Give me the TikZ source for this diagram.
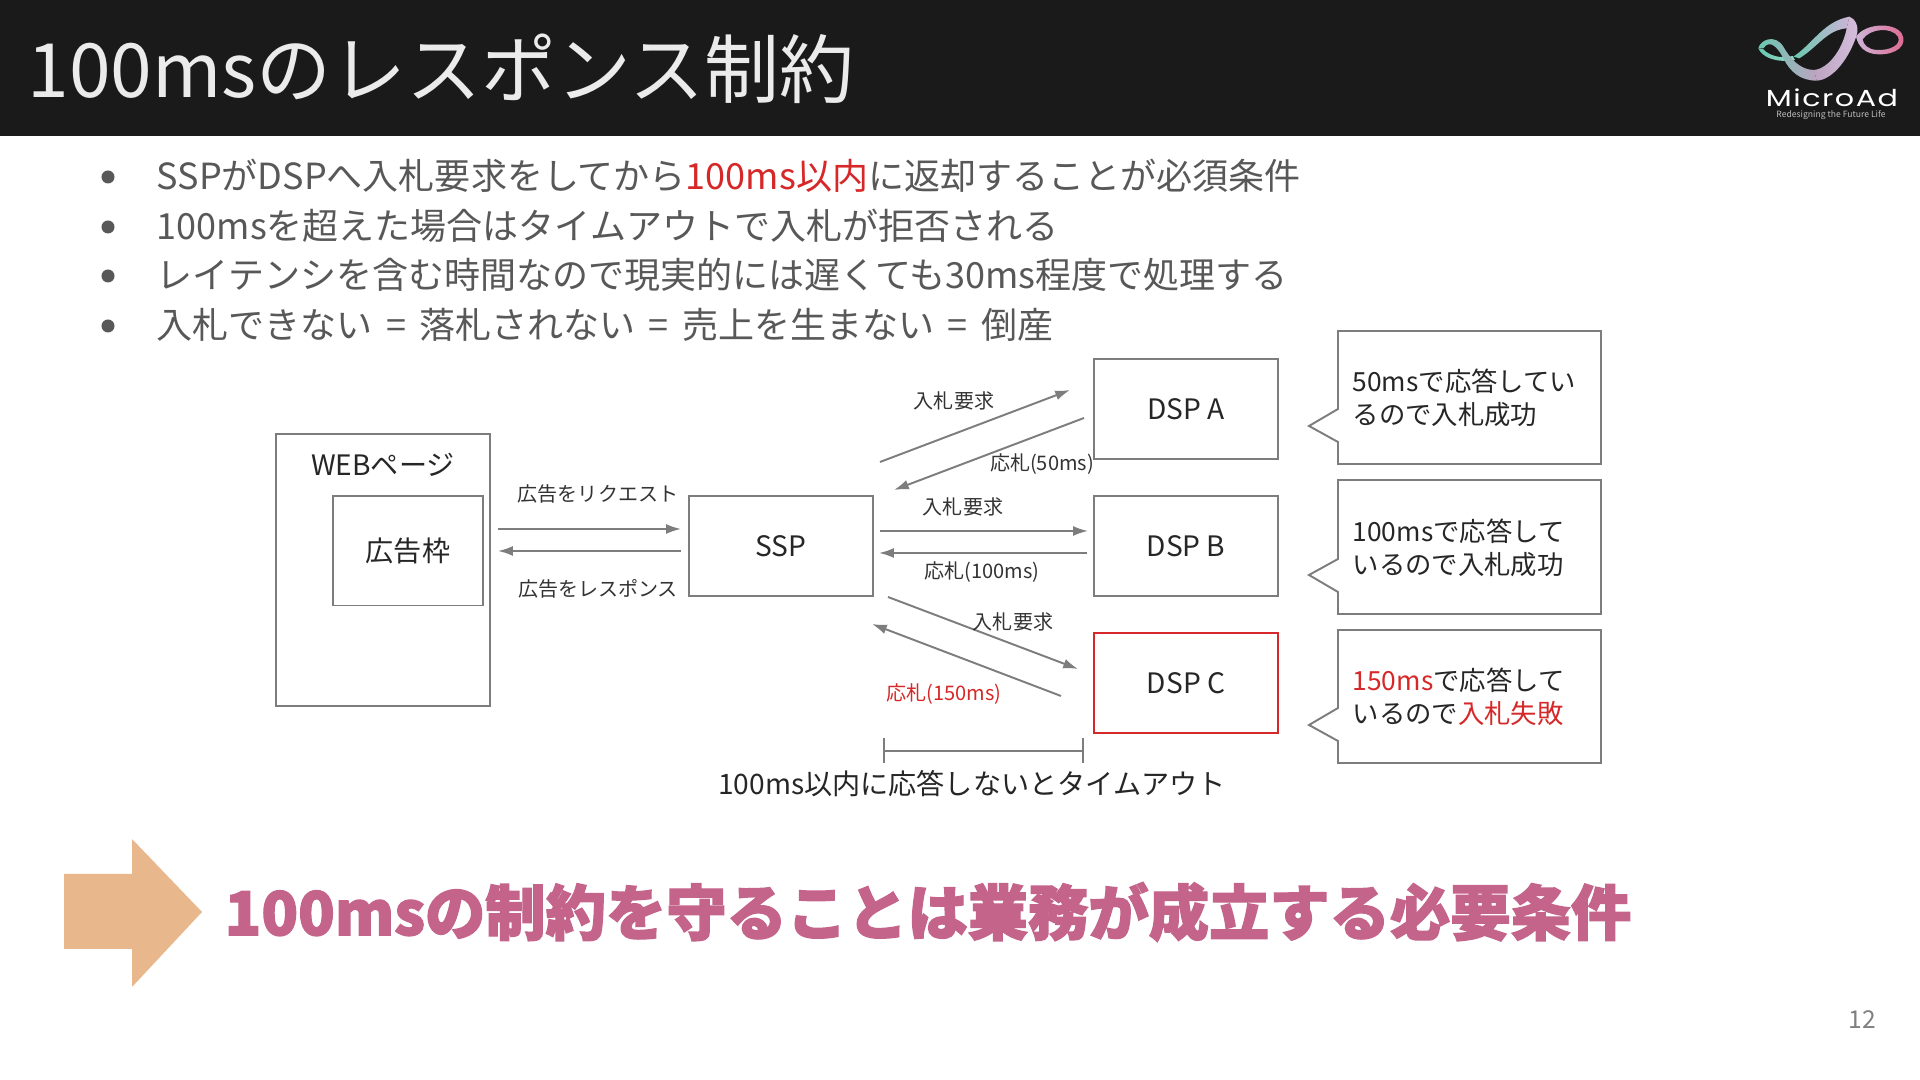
\documentclass[tikz,border=0pt]{standalone}
\usepackage{fontspec}
\setmainfont{Noto Sans CJK JP}
\newfontfamily\heavyfont{Noto Sans CJK JP}[BoldFeatures={FakeBold=2.2}]
\newfontfamily\logofont{Poppins}[LetterSpace=5]
\usetikzlibrary{arrows.meta}
\newcommand{\fs}[1]{\fontsize{#1}{#1}\selectfont}

\begin{document}
\begin{tikzpicture}[x=0.01cm,y=-0.01cm,>={Latex[length=4.2pt,width=2.8pt]}]
\definecolor{barblack}{RGB}{26,26,26}
\definecolor{bodygray}{RGB}{88,88,88}
\definecolor{linegray}{RGB}{125,125,125}
\definecolor{alertred}{RGB}{214,40,40}
\definecolor{arrowsand}{RGB}{232,184,140}
\definecolor{rosetext}{RGB}{196,100,138}
\definecolor{logoteal}{RGB}{105,200,175}
\definecolor{logocream}{RGB}{240,210,170}
\definecolor{logolilac}{RGB}{205,180,215}
\definecolor{logoplum}{RGB}{160,125,165}
\definecolor{logorose}{RGB}{225,100,140}
\tikzset{
  bullettext/.style={anchor=west,inner sep=0pt,text=bodygray,font=\fs{10.24}},
  bulletdot/.style={circle,fill=bodygray,inner sep=0pt,minimum size=0.13cm},
  boxnode/.style={draw=linegray,line width=0.55pt,inner sep=0pt,text=black!85,font=\fs{8}},
  smalllabel/.style={inner sep=0pt,text=black!80,font=\fs{5.7}},
  calloutline/.style={draw=linegray,line width=0.55pt},
  callouttext/.style={anchor=west,align=left,inner sep=0pt,text=black!85,font=\fontsize{7.5}{9.4}\selectfont},
  link/.style={->,draw=linegray,line width=0.55pt}
}
\useasboundingbox (0,0) rectangle (1920,1080);
\fill[white] (0,0) rectangle (1920,1080);

% Title bar with logo.
\fill[barblack] (0,0) rectangle (1920,136);
\node[anchor=west,inner sep=0pt,text=white!92!black,font=\fs{21.3}] (title) at (27,69)
  {100msのレスポンス制約};

\begin{scope}[shift={(1750,10)},scale=1/3]
  \shade[even odd rule,left color=logolilac,right color=logorose]
    (318,80) .. controls (345,40) and (430,35) .. (455,70)
    .. controls (475,105) and (440,135) .. (385,133)
    .. controls (345,132) and (325,110) .. (318,80) -- cycle
    (338,88) .. controls (360,55) and (425,50) .. (444,80)
    .. controls (455,105) and (420,122) .. (380,120)
    .. controls (355,118) and (340,105) .. (338,88) -- cycle;
  \shade[left color=logoteal,middle color=logocream,right color=logolilac]
    (130,140) .. controls (190,100) and (220,35) .. (298,20)
    -- (290,55) .. controls (230,60) and (205,110) .. (148,145) -- cycle;
  \shade[left color=logoteal,right color=logoteal!70!white]
    (25,115) .. controls (35,140) and (75,160) .. (135,150)
    -- (128,138) .. controls (90,148) and (55,135) .. (40,118) -- cycle;
  \shade[left color=logoteal,right color=logoplum!70!white]
    (25,115) .. controls (30,90) and (75,70) .. (100,110)
    .. controls (120,145) and (150,180) .. (192,180)
    -- (200,212) .. controls (150,212) and (120,185) .. (100,145)
    .. controls (85,115) and (60,85) .. (40,115) -- cycle;
  \shade[left color=logoplum!70!white,right color=logolilac!85!white]
    (200,212) .. controls (250,210) and (300,140) .. (320,75)
    .. controls (328,50) and (315,25) .. (298,20)
    -- (290,55) .. controls (280,110) and (240,175) .. (192,180) -- cycle;
\end{scope}
\node[inner sep=0pt,text=white,font=\logofont\fs{6.6},transform shape,xscale=1.3] (logoname) at (1832,98) {MicroAd};
\node[inner sep=0pt,text=white!75!black,font=\fs{2.45}] (logotag) at (1831,115) {Redesigning the Future Life};

% Bullets.
\node[bulletdot] (dota) at (108,177) {};
\node[bulletdot] (dotb) at (108,227) {};
\node[bulletdot] (dotc) at (108,276) {};
\node[bulletdot] (dotd) at (108,326) {};
\node[bullettext] (linea) at (156,176)
  {SSPがDSPへ入札要求をしてから\textcolor{alertred}{100ms以内}に返却することが必須条件};
\node[bullettext] (lineb) at (156,226)
  {100msを超えた場合はタイムアウトで入札が拒否される};
\node[bullettext] (linec) at (156,275)
  {レイテンシを含む時間なので現実的には遅くても30ms程度で処理する};
\node[bullettext] (lined) at (156,325)
  {\spaceskip=3.8pt 入札できない = 落札されない = 売上を生まない = 倒産};

% Boxes.
\node[boxnode,minimum width=2.14cm,minimum height=2.72cm] (web) at (383,570) {};
\node[inner sep=0pt,text=black!85,font=\fs{8}] (webtext) at (383,465) {WEBページ};
\node[boxnode,minimum width=1.49cm,minimum height=1.09cm] (slot) at (408,551) {広告枠};
\node[boxnode,minimum width=1.84cm,minimum height=1cm] (ssp) at (781,546) {SSP};
\node[boxnode,minimum width=1.84cm,minimum height=1cm] (dspa) at (1186,409) {DSP A};
\node[boxnode,minimum width=1.84cm,minimum height=1cm] (dspb) at (1186,546) {DSP B};
\node[boxnode,minimum width=1.84cm,minimum height=1cm,draw=alertred] (dspc) at (1186,683) {DSP C};

% Connectors keep clear of the boxes, so their ends are coordinates.
\coordinate (reqa) at (498,529);
\coordinate (reqb) at (681,529);
\coordinate (resa) at (681,551);
\coordinate (resb) at (498,551);
\draw[link] (reqa)--(reqb);
\draw[link] (resa)--(resb);
\node[smalllabel] (reqtext) at (598,494) {広告をリクエスト};
\node[smalllabel] (restext) at (598,589) {広告をレスポンス};

\coordinate (a1) at (880,462);
\coordinate (a2) at (1070,390);
\coordinate (a3) at (1084,418);
\coordinate (a4) at (894,490);
\draw[link] (a1)--(a2);
\draw[link] (a3)--(a4);
\node[smalllabel] (bida) at (954,401) {入札要求};
\node[smalllabel] (ansa) at (1042,464) {応札(50ms)};

\coordinate (b1) at (880,531);
\coordinate (b2) at (1088,531);
\coordinate (b3) at (1087,553);
\coordinate (b4) at (879,553);
\draw[link] (b1)--(b2);
\draw[link] (b3)--(b4);
\node[smalllabel] (bidb) at (963,507) {入札要求};
\node[smalllabel] (ansb) at (982,572) {応札(100ms)};

\coordinate (c1) at (888,597);
\coordinate (c2) at (1078,669);
\coordinate (c3) at (1061,696);
\coordinate (c4) at (872,624);
\draw[link] (c1)--(c2);
\draw[link] (c3)--(c4);
\node[smalllabel] (bidc) at (1013,622) {入札要求};
\node[smalllabel,text=alertred] (ansc) at (944,694) {応札(150ms)};

% Timeout span.
\coordinate (spana) at (884,751);
\coordinate (spanb) at (1083,751);
\draw[linegray,line width=0.55pt] (spana)--(spanb);
\draw[linegray,line width=0.55pt] (884,738)--(884,763);
\draw[linegray,line width=0.55pt] (1083,738)--(1083,763);
\node[inner sep=0pt,text=black!85,font=\fs{8}] (spantext) at (972,784)
  {100ms以内に応答しないとタイムアウト};

% Callouts.
\draw[calloutline] (1338,331)--(1601,331)--(1601,464)--(1338,464)--(1338,442)--(1309,426)--(1338,409)--cycle;
\draw[calloutline] (1338,480)--(1601,480)--(1601,614)--(1338,614)--(1338,592)--(1309,575)--(1338,559)--cycle;
\draw[calloutline] (1338,630)--(1601,630)--(1601,763)--(1338,763)--(1338,741)--(1309,725)--(1338,708)--cycle;
\node[callouttext] (noa) at (1352,398) {50msで応答してい\\るので入札成功};
\node[callouttext] (nob) at (1352,548) {100msで応答して\\いるので入札成功};
\node[callouttext] (noc) at (1352,697)
  {\textcolor{alertred}{150ms}で応答して\\いるので\textcolor{alertred}{入札失敗}};

% Conclusion.
\fill[arrowsand] (64,874)--(132,874)--(132,839)--(202,912)--(132,987)--(132,949)--(64,949)--cycle;
\node[anchor=west,inner sep=0pt,text=rosetext,font=\heavyfont\bfseries\fs{17.15}] (result) at (224,912)
  {100msの制約を守ることは業務が成立する必要条件};

\node[inner sep=0pt,text=gray,font=\fs{7}] (pageno) at (1862,1020) {12};
\end{tikzpicture}
\end{document}
